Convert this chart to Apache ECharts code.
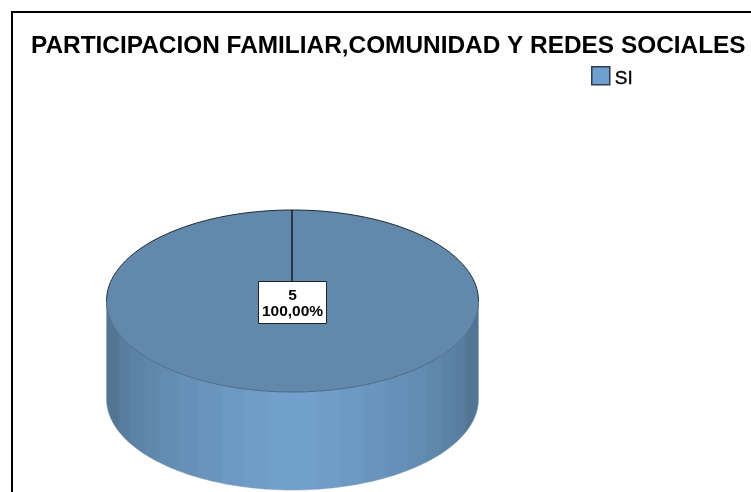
<!DOCTYPE html>
<html>
<head>
<meta charset="utf-8">
<style>html,body{margin:0;padding:0;background:#fff}#c{width:751px;height:492px}</style>
<script src="https://cdn.jsdelivr.net/npm/echarts@6/dist/echarts.min.js"></script>
</head>
<body>
<div id="c"></div>
<script>
const titleText = 'PARTICIPACION FAMILIAR,COMUNIDAD Y REDES SOCIALES';
const categories = ['SI'];
const counts = [5];
const percentLabels = ['100,00%'];

const chart = echarts.init(document.getElementById('c'), null, {renderer: 'canvas'});
const FONT = '"Liberation Sans", Arial, sans-serif';
const total = counts.reduce((a, b) => a + b, 0);

function ellipsePts(cx, cy, rx, ry, a0, a1, n) {
  const pts = [];
  for (let i = 0; i <= n; i++) {
    const a = a0 + (a1 - a0) * i / n;
    pts.push([cx + rx * Math.cos(a), cy + ry * Math.sin(a)]);
  }
  return pts;
}

// The cylinder wall is shaded in soft vertical bands, mirrored about the middle.
function bandStops() {
  const edges = [0, 0.035, 0.062, 0.102, 0.142, 0.19, 0.25, 0.31, 0.37, 0.435, 0.5];
  const tones = ['#527594', '#587d9e', '#5c83a5', '#5f88ab', '#628cb1', '#6690b7', '#6995bd', '#6c99c3', '#6f9dc8', '#71a0cc'];
  const stops = [];
  const soft = 0.006;
  tones.forEach((c, i) => {
    stops.push({offset: edges[i] + soft, color: c}, {offset: edges[i + 1] - soft, color: c});
  });
  for (let i = tones.length - 1; i >= 0; i--) {
    stops.push({offset: 1 - edges[i + 1] + soft, color: tones[i]}, {offset: 1 - edges[i] - soft, color: tones[i]});
  }
  return stops;
}

chart.setOption({
  animation: false,
  backgroundColor: '#fff',
  title: {
    text: titleText, left: 26, top: 29.5,
    textStyle: {fontFamily: FONT, fontSize: 24.4, fontWeight: 'bold', color: '#000'}
  },
  legend: {
    left: 586, top: 61, itemWidth: 18, itemHeight: 18, itemGap: 4,
    data: categories,
    icon: 'rect',
    formatter: '{a|{name}}',
    textStyle: {
      rich: {a: {fontFamily: FONT, fontSize: 19, color: '#000', padding: [6, 0, 0, 0],
        textBorderColor: '#000', textBorderWidth: 0.4}}
    },
    itemStyle: {color: '#6f9fce', borderColor: '#2c3e50', borderWidth: 1.5}
  },
  graphic: [{
    type: 'polyline', silent: true,
    shape: {points: [[12, 500], [12, 12], [760, 12]]},
    style: {stroke: '#000', lineWidth: 2, fill: null}
  }],
  series: [{
    type: 'custom',
    name: categories[0],
    coordinateSystem: 'none',
    data: counts.map((v, i) => [v, i]),
    renderItem(params, api) {
      const cx = 292.5, cy = 301, rx = 186, ry = 91, depth = 98;
      const value = api.value(0);
      const idx = api.value(1);
      const start = -Math.PI / 2;
      const sweep = value / total * Math.PI * 2;
      const front = ellipsePts(cx, cy + depth, rx, ry, Math.PI, 0, 160);
      const back = ellipsePts(cx, cy, rx, ry, 0, Math.PI, 160);
      const sidePts = [[cx - rx, cy]].concat(front, back);
      const topPts = [[cx, cy]].concat(ellipsePts(cx, cy, rx, ry, start, start + sweep, 320));
      const sideFill = new echarts.graphic.LinearGradient(0, 0, 1, 0, bandStops());
      const children = [
        {type: 'polygon', shape: {points: sidePts}, style: {fill: sideFill, stroke: '#7f9ab2', lineWidth: 0.5}},
        {type: 'polygon', shape: {points: topPts}, style: {fill: '#6289ab', stroke: 'none'}},
        {type: 'polyline', shape: {points: ellipsePts(cx, cy, rx, ry, Math.PI, 2 * Math.PI, 200)},
          style: {stroke: '#1a2530', lineWidth: 1, fill: null}},
        {type: 'polyline', shape: {points: ellipsePts(cx, cy, rx, ry, 0, Math.PI, 200)},
          style: {stroke: '#4a6a87', lineWidth: 1, fill: null}},
        {type: 'line',
          shape: {x1: cx - 0.5, y1: cy, x2: cx - 0.5 + rx * Math.cos(start), y2: cy + ry * Math.sin(start)},
          style: {stroke: '#000', lineWidth: 1.2}},
        {type: 'rect', shape: {x: 258.5, y: 281.5, width: 68, height: 42},
          style: {fill: '#fff', stroke: '#222', lineWidth: 1}},
        {type: 'text', style: {
          text: value + '\n' + percentLabels[idx],
          x: 292.5, y: 303.5, align: 'center', verticalAlign: 'middle',
          font: 'bold 15.5px ' + FONT, lineHeight: 16.5, fill: '#000'
        }}
      ];
      return {type: 'group', children};
    }
  }]
});
</script>
</body>
</html>
